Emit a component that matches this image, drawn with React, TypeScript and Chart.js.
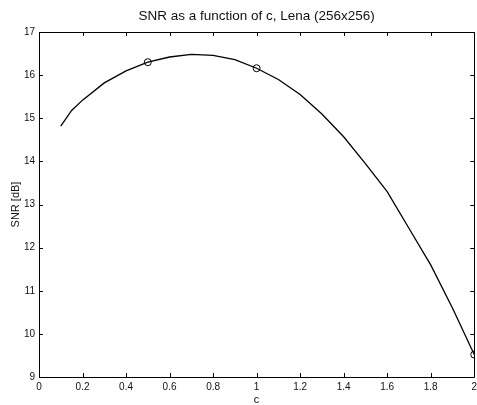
import React, { useEffect, useRef } from "react";
import { Chart, registerables } from "chart.js";

Chart.register(...registerables);

const cValues = [0.1, 0.15, 0.2, 0.3, 0.4, 0.5, 0.6, 0.7, 0.8, 0.9, 1.0, 1.1, 1.2, 1.3, 1.4, 1.5, 1.6, 1.7, 1.8, 1.9, 2.0];
const snrValues = [14.82, 15.18, 15.42, 15.82, 16.1, 16.3, 16.42, 16.48, 16.46, 16.36, 16.16, 15.9, 15.55, 15.1, 14.57, 13.95, 13.3, 12.45, 11.6, 10.6, 9.52];
const markerC = [0.5, 1.0, 2.0];
const markerSnr = [16.3, 16.16, 9.52];
const xTicks = [0, 0.2, 0.4, 0.6, 0.8, 1, 1.2, 1.4, 1.6, 1.8, 2];
const yTicks = [9, 10, 11, 12, 13, 14, 15, 16, 17];

const FONT = "'Liberation Sans', Arial, sans-serif";

const framePlugin = {
  id: "frame",
  afterDraw(chart: any) {
    const { ctx, chartArea: a, scales } = chart;
    const tl = 4;
    ctx.save();
    ctx.strokeStyle = "#000";
    ctx.lineWidth = 1;
    ctx.beginPath();
    ctx.rect(Math.round(a.left) + 0.5, Math.round(a.top) + 0.5, Math.round(a.right - a.left), Math.round(a.bottom - a.top));
    for (const v of xTicks) {
      const x = Math.round(scales.x.getPixelForValue(v)) + 0.5;
      ctx.moveTo(x, a.bottom);
      ctx.lineTo(x, a.bottom - tl);
      ctx.moveTo(x, a.top);
      ctx.lineTo(x, a.top + tl);
    }
    for (const v of yTicks) {
      const y = Math.round(scales.y.getPixelForValue(v)) + 0.5;
      ctx.moveTo(a.left, y);
      ctx.lineTo(a.left + tl, y);
      ctx.moveTo(a.right, y);
      ctx.lineTo(a.right - tl, y);
    }
    ctx.stroke();
    ctx.restore();
  },
};

export default function App() {
  const ref = useRef<HTMLCanvasElement | null>(null);
  useEffect(() => {
    document.body.style.margin = "0";
    const canvas = ref.current;
    if (!canvas) return;
    const chart = new Chart(canvas, {
      type: "scatter",
      data: {
        datasets: [
          {
            data: cValues.map((c, i) => ({ x: c, y: snrValues[i] })),
            showLine: true,
            borderColor: "#000",
            borderWidth: 1.3,
            pointRadius: 0,
            tension: 0,
          },
          {
            data: markerC.map((c, i) => ({ x: c, y: markerSnr[i] })),
            showLine: false,
            pointStyle: "circle",
            pointRadius: 3.5,
            borderColor: "#000",
            borderWidth: 1,
            backgroundColor: "rgba(0,0,0,0)",
          },
        ],
      },
      options: {
        animation: false,
        responsive: false,
        layout: { padding: { left: 0, right: 3, top: 0, bottom: 0 } },
        plugins: {
          legend: { display: false },
          tooltip: { enabled: false },
          title: {
            display: true,
            fullSize: false,
            text: "SNR as a function of c, Lena (256x256)",
            color: "#111",
            font: { family: FONT, size: 13.5, weight: "normal" },
            padding: { top: 8, bottom: 7.8 },
          },
        },
        scales: {
          x: {
            type: "linear",
            min: 0,
            max: 2,
            afterFit(scale: any) {
              scale.height = 28;
            },
            grid: { display: false, drawTicks: false },
            border: { display: false },
            ticks: {
              stepSize: 0.2,
              autoSkip: false,
              maxRotation: 0,
              padding: 4,
              color: "#111",
              font: { family: FONT, size: 10 },
              callback: (v: any) => String(Number(Number(v).toFixed(1))),
            },
            title: {
              display: true,
              text: "c",
              color: "#111",
              font: { family: FONT, size: 11 },
              padding: { top: 0, bottom: -1.5 },
            },
          },
          y: {
            type: "linear",
            min: 9,
            max: 17,
            afterFit(scale: any) {
              scale.width = 39;
            },
            grid: { display: false, drawTicks: false },
            border: { display: false },
            ticks: {
              stepSize: 1,
              autoSkip: false,
              padding: 4,
              color: "#111",
              font: { family: FONT, size: 10 },
            },
            title: {
              display: true,
              text: "SNR [dB]",
              color: "#111",
              font: { family: FONT, size: 11 },
              padding: { top: 9, bottom: 0 },
            },
          },
        },
      },
      plugins: [framePlugin],
    });
    return () => chart.destroy();
  }, []);
  return (
    <div style={{ position: "absolute", left: 0, top: 0, width: 477, height: 405, overflow: "hidden", background: "#fff" }}>
      <canvas ref={ref} width={481} height={405} style={{ display: "block" }} />
    </div>
  );
}
